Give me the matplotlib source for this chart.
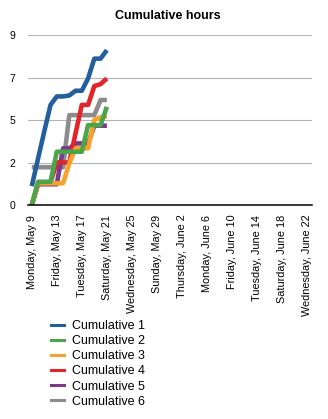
import datetime as dt
import matplotlib
matplotlib.use("Agg")
import matplotlib.pyplot as plt
import matplotlib.dates as mdates
from matplotlib.lines import Line2D

plt.rcParams['font.family'] = ['Liberation Sans', 'DejaVu Sans']

# daily log, May 9 - May 21 2011
days = ["2011-05-09", "2011-05-10", "2011-05-11", "2011-05-12", "2011-05-13",
        "2011-05-14", "2011-05-15", "2011-05-16", "2011-05-17", "2011-05-18",
        "2011-05-19", "2011-05-20", "2011-05-21"]

cum1 = [1.0, 2.45, 3.9, 5.3, 5.75, 5.75, 5.8, 6.05, 6.05, 6.7, 7.75, 7.75, 8.2]
cum2 = [0.0, 1.23, 1.23, 1.23, 2.82, 2.82, 2.82, 2.82, 2.82, 4.23, 4.23, 4.23, 5.2]
cum3 = [0.0, 1.15, 1.15, 1.15, 1.15, 1.15, 2.2, 3.0, 3.0, 3.0, 4.5, 4.65, 4.7]
cum4 = [0.0, 1.1, 1.2, 1.2, 2.25, 2.25, 2.25, 3.8, 5.3, 5.3, 6.3, 6.4, 6.7]
cum5 = [0.0, 1.1, 1.1, 1.1, 1.1, 3.0, 3.0, 3.26, 3.26, 3.26, 4.2, 4.2, 4.2]
cum6 = [2.0, 2.0, 2.0, 2.0, 2.0, 2.0, 4.76, 4.76, 4.76, 4.76, 4.76, 5.56, 5.56]

names = ["Cumulative 1", "Cumulative 2", "Cumulative 3",
         "Cumulative 4", "Cumulative 5", "Cumulative 6"]
colors = ["#235f9c", "#4ba54a", "#f7a22c", "#e1252b", "#7c3a8b", "#8c8c8c"]

tick_days = ["2011-05-09", "2011-05-13", "2011-05-17", "2011-05-21", "2011-05-25",
             "2011-05-29", "2011-06-02", "2011-06-06", "2011-06-10", "2011-06-14",
             "2011-06-18", "2011-06-22"]
tick_labels = ["Monday, May 9", "Friday, May 13", "Tuesday, May 17",
               "Saturday, May 21", "Wednesday, May 25", "Sunday, May 29",
               "Thursday, June 2", "Monday, June 6", "Friday, June 10",
               "Tuesday, June 14", "Saturday, June 18", "Wednesday, June 22"]

y_ticks = [0, 2.25, 4.5, 6.75, 9]
y_labels = ["0", "2", "5", "7", "9"]

to_num = lambda s: mdates.date2num(dt.datetime.strptime(s, "%Y-%m-%d"))
x = [to_num(d) for d in days]
series = [cum1, cum2, cum3, cum4, cum5, cum6]

fig = plt.figure(figsize=(3.28, 4.19), dpi=100)
ax = fig.add_axes([0.0854, 0.5107, 0.8659, 0.4057])

# first series ends up on top
for i, (vals, c) in enumerate(zip(series, colors)):
    ax.plot(x, vals, color=c, lw=3.3, solid_joinstyle='round',
            solid_capstyle='butt', zorder=10 - i)

start = to_num(days[0])
ax.set_xlim(start - 0.6, start + 44.8)
ax.set_ylim(0, 9)

ax.set_xticks([to_num(d) for d in tick_days])
ax.set_xticklabels(tick_labels, rotation=90, fontsize=7.8)
ax.set_yticks(y_ticks)
ax.set_yticklabels(y_labels, fontsize=7.5)
ax.tick_params(length=0)
ax.tick_params(axis='x', pad=7)
ax.tick_params(axis='y', pad=9)

ax.grid(axis='y', color='#b4b4b4', lw=0.8)
ax.set_axisbelow(True)
for s in ['top', 'right', 'left']:
    ax.spines[s].set_visible(False)
ax.spines['bottom'].set_color('black')
ax.spines['bottom'].set_linewidth(1.1)
ax.spines['bottom'].set_zorder(20)

fig.text(167.5 / 328, 1 - 16 / 419, "Cumulative hours", ha='center', va='center',
         fontsize=9, fontweight='bold')

handles = [Line2D([], [], color=c, lw=2.2) for c in colors]
fig.legend(handles, names, loc='upper left', bbox_to_anchor=(51 / 328, 1 - 320 / 419),
           frameon=False, fontsize=9, handlelength=1.05, handletextpad=0.65,
           labelspacing=0.25, borderpad=0, borderaxespad=0)

fig.savefig("out.png", dpi=100)
